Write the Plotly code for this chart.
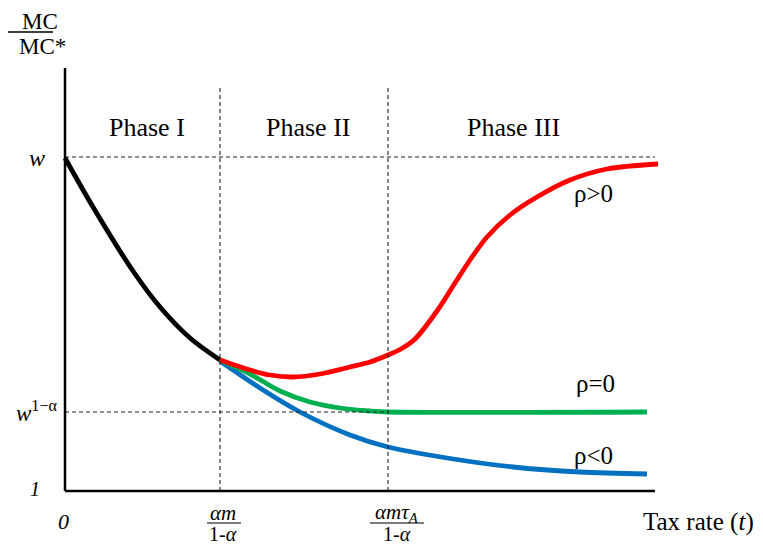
import plotly.graph_objects as go

# ---- data (x: tax rate units, y: MC/MC* units; origin at axis corner) ----
phase_bounds = [155, 323]          # t = αm/(1-α), αm·τA/(1-α)
w_level = 334                      # MC/MC* = w
w1a_level = 79                     # MC/MC* = w^(1-α)

black_x = [0, 28, 68, 95, 125, 155]
black_y = [333, 284, 220, 184, 153, 131]

red_x = [155, 185, 205, 228, 255, 285, 305, 323, 336, 350, 372, 390, 405, 422, 445, 472, 505, 542, 593]
red_y = [131, 121, 116, 114, 117, 124, 129, 136, 142, 152, 180, 208, 231, 254, 276, 294, 311, 322, 327]

green_x = [155, 185, 215, 245, 275, 305, 323, 582]
green_y = [131, 117, 100, 89, 83, 80, 79, 79]

blue_x = [155, 195, 235, 285, 323, 382, 448, 515, 582]
blue_y = [130, 103, 79, 56, 44, 33, 24, 19, 17]

phase_labels = ["Phase I", "Phase II", "Phase III"]
phase_label_x = [82, 243, 448]
curve_labels = ["ρ>0", "ρ=0", "ρ<0"]
curve_label_xy = [(528, 298), (530, 108), (528, 36)]

FONT = "Liberation Serif"
X0, Y0 = 65, 491        # pixel position of the axes corner
PAGE_OFF = 8            # browser body margin

fig = go.Figure()

def add_line(x, y, color):
    fig.add_trace(go.Scatter(x=x, y=y, mode="lines",
                             line=dict(color=color, width=4.8, shape="spline", smoothing=0.9),
                             hoverinfo="skip", showlegend=False, cliponaxis=False))

dash = dict(color="#222", width=1.1, dash="4px,3px")
fig.add_shape(type="line", x0=0, x1=590, y0=w_level, y1=w_level, line=dash)
fig.add_shape(type="line", x0=0, x1=phase_bounds[1], y0=w1a_level, y1=w1a_level, line=dash)
for xb in phase_bounds:
    fig.add_shape(type="line", x0=xb, x1=xb, y0=0, y1=403, line=dash)

add_line(black_x, black_y, "#000000")
add_line(blue_x, blue_y, "#0070C0")
add_line(green_x, green_y, "#00B050")
add_line(red_x, red_y, "#FF0000")

# axes
fig.add_shape(type="line", x0=0, x1=0, y0=0, y1=423, line=dict(color="black", width=2.5))
fig.add_shape(type="line", x0=0, x1=590, y0=0, y1=0, line=dict(color="black", width=2.5))

ann = []
def txt(x, y, s, size=24, xanchor="center"):
    ann.append(dict(x=x, y=y, xref="x", yref="y", text=s, showarrow=False, xanchor=xanchor, yanchor="middle",
                    borderpad=0, font=dict(family=FONT, size=size, color="black")))

for s, x in zip(phase_labels, phase_label_x):
    txt(x, 364, s, size=26)
for s, (x, y) in zip(curve_labels, curve_label_xy):
    txt(x, y, s, size=25)

# y tick labels
txt(-28, 333, "<i>w</i>", size=24)
txt(-29, 80, "<i>w</i><sup>1−α</sup>", size=23)
txt(-30, 2, "<i>1</i>", size=20)
# x tick labels
txt(-2, -30, "<i>0</i>", size=22)
txt(158, -22, "<i>αm</i>", size=21)
txt(158, -43, "1-<i>α</i>", size=20)
txt(332, -22, "<i>αmτ<sub>A</sub></i>", size=21)
txt(332, -43, "1-<i>α</i>", size=20)
fig.add_shape(type="line", x0=142, x1=176, y0=-32, y1=-32, line=dict(color="black", width=1.2))
fig.add_shape(type="line", x0=305, x1=359, y0=-32, y1=-32, line=dict(color="black", width=1.2))
# axis titles
txt(633, -31, "Tax rate (<i>t</i>)", size=25)
txt(-25, 470, "MC", size=23)
txt(-23, 445, "MC*", size=23)
fig.add_shape(type="line", x0=-60, x1=-12, y0=459, y1=459, line=dict(color="black", width=1.5))

W, H = 763 - PAGE_OFF, 546 - PAGE_OFF
fig.update_layout(
    width=W, height=H,
    margin=dict(l=0, r=0, t=0, b=0),
    plot_bgcolor="white", paper_bgcolor="white",
    annotations=ann,
    xaxis=dict(range=[PAGE_OFF - X0, PAGE_OFF - X0 + W], visible=False, fixedrange=True),
    yaxis=dict(range=[Y0 - (PAGE_OFF + H), Y0 - PAGE_OFF], visible=False, fixedrange=True),
    showlegend=False,
)

fig.write_html("out.html")
